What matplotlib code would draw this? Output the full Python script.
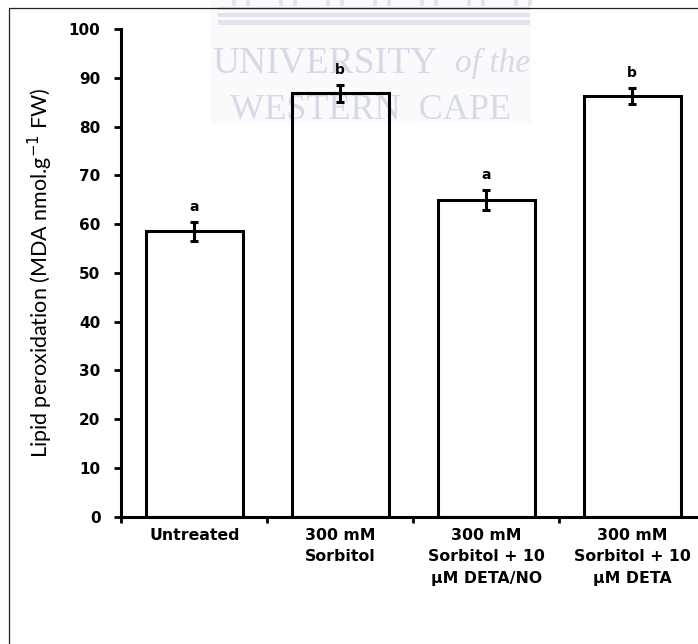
import matplotlib
matplotlib.use("Agg")
import matplotlib.pyplot as plt
from matplotlib.patches import Rectangle

# lipid peroxidation per treatment (mean and SE) with significance letters
treatments = ["Untreated",
              "300 mM\nSorbitol",
              "300 mM\nSorbitol + 10\nµM DETA/NO",
              "300 mM\nSorbitol + 10\nµM DETA"]
mda = [58.5, 86.8, 64.9, 86.2]
mda_err = [1.9, 1.7, 2.1, 1.6]
letters = ["a", "b", "a", "b"]
yticks = [0, 10, 20, 30, 40, 50, 60, 70, 80, 90, 100]

W, H = 698, 644
fig = plt.figure(figsize=(W / 100, H / 100), dpi=100)

# page layer in pixel units: frame lines and the watermark
bg = fig.add_axes([0, 0, 1, 1], zorder=0)
bg.set_xlim(0, W)
bg.set_ylim(H, 0)
bg.axis("off")
bg.plot([9, 9, W + 5], [H + 5, 8, 8], color="#222222", lw=0.9)
bg.add_patch(Rectangle((211, 0), 320, 123, color="#fafafc", lw=0))
for y0, h in [(7, 3), (13, 4), (20, 5)]:
    bg.add_patch(Rectangle((218, y0), 312, h, color="#e2e3ec", lw=0))
for cx in range(232, 520, 47):
    bg.add_patch(Rectangle((cx, 0), 4, 6, color="#e2e3ec", lw=0))
    bg.add_patch(Rectangle((cx + 14, 0), 4, 6, color="#e2e3ec", lw=0))
wm = "#d6d9e6"
bg.text(212, 63, "UNIVERSITY", family="Liberation Serif", fontsize=27,
        color=wm, ha="left", va="center")
bg.text(530, 63, "of the", family="Liberation Serif", style="italic",
        fontsize=24, color=wm, ha="right", va="center")
bg.text(371, 110, "WESTERN  CAPE", family="Liberation Serif", fontsize=26,
        color=wm, ha="center", va="center")

# bar chart
ax = fig.add_axes([121.3 / W, 1 - 516.7 / H, 584 / W, 487.7 / H], zorder=1)
ax.patch.set_alpha(0)
x = list(range(len(treatments)))
ax.bar(x, mda, width=0.665, facecolor="none", edgecolor="black", linewidth=2.2)
ax.errorbar(x, mda, yerr=mda_err, fmt="none", ecolor="black",
            elinewidth=2.2, capsize=3.2, capthick=2.2)
for xi, v, e, lab in zip(x, mda, mda_err, letters):
    ax.annotate(lab, (xi, v + e), xytext=(0, 6), textcoords="offset points",
                ha="center", va="bottom", fontsize=10, fontweight="bold",
                family="DejaVu Sans")

ax.set_xlim(-0.5, 3.5)
ax.set_ylim(0, 100)
ax.set_yticks(yticks)
ax.set_yticklabels([str(t) for t in yticks], fontsize=11, fontweight="bold",
                   family="DejaVu Sans")
ax.set_xticks(x)
ax.set_xticklabels(treatments, fontsize=11.3, fontweight="bold",
                   family="DejaVu Sans", linespacing=1.55)
ax.set_xticks([-0.5, 0.5, 1.5, 2.5, 3.5], minor=True)
ax.tick_params(axis="x", which="major", length=0, pad=8)
ax.tick_params(axis="x", which="minor", length=4.5, width=2, direction="out")
ax.tick_params(axis="y", length=5, width=2, direction="out", pad=10)

for s in ["top", "right"]:
    ax.spines[s].set_visible(False)
for s in ["left", "bottom"]:
    ax.spines[s].set_linewidth(2.2)

ax.set_ylabel(r"Lipid peroxidation (MDA nmol.g$^{-1}$ FW)", fontsize=15.5,
              family="Lato")
ax.yaxis.set_label_coords(-0.113, 0.5)

fig.savefig("out.png", dpi=100)
